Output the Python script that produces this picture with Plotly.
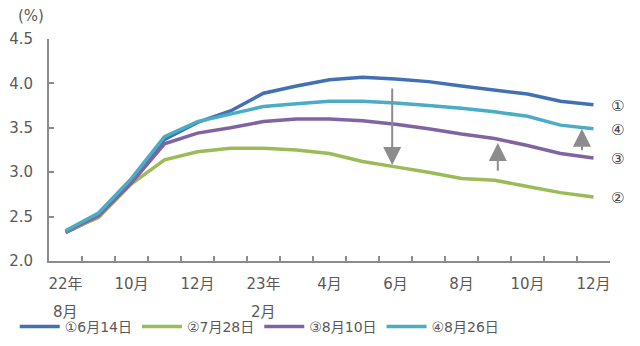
import plotly.graph_objects as go

# Monthly index: Aug 2022 .. Dec 2023
months = ["22年8月", "9月", "10月", "11月", "12月", "23年1月", "2月", "3月", "4月",
          "5月", "6月", "7月", "8月", "9月", "10月", "11月", "12月"]
tick_top = ["22年", "10月", "12月", "23年", "4月", "6月", "8月", "10月", "12月"]
tick_sub = ["8月", "", "", "2月", "", "", "", "", ""]

series_names = ["①6月14日", "②7月28日", "③8月10日", "④8月26日"]
end_marks = ["①", "②", "③", "④"]
s1 = [2.32, 2.50, 2.90, 3.37, 3.56, 3.69, 3.89, 3.97, 4.04, 4.07, 4.05, 4.02, 3.97, 3.93, 3.88, 3.80, 3.76]
s2 = [2.33, 2.49, 2.87, 3.14, 3.23, 3.27, 3.27, 3.25, 3.21, 3.12, 3.06, 3.00, 2.93, 2.91, 2.84, 2.77, 2.72]
s3 = [2.33, 2.51, 2.88, 3.32, 3.44, 3.50, 3.57, 3.60, 3.60, 3.58, 3.54, 3.49, 3.43, 3.38, 3.30, 3.21, 3.16]
s4 = [2.34, 2.54, 2.93, 3.40, 3.57, 3.66, 3.74, 3.77, 3.80, 3.80, 3.78, 3.75, 3.72, 3.68, 3.63, 3.53, 3.49]
colors = ["#4170B3", "#9BBB59", "#8064A2", "#4BACC6"]

FONT = "DejaVu Sans, Noto Sans CJK JP, sans-serif"
TXT = "#595959"
AX = "#8C8C8C"

x = list(range(len(months)))
boundaries = [i - 0.5 for i in range(len(months) + 1)]
tick_x = x[::2]

fig = go.Figure()
for name, vals, col in zip(series_names, [s1, s2, s3, s4], colors):
    fig.add_trace(go.Scatter(x=x, y=vals, mode="lines", name=name,
                             line=dict(color=col, width=3.5),
                             hovertext=months))
# carrier for the month-label axis
fig.add_trace(go.Scatter(x=tick_x, y=[None] * len(tick_x), xaxis="x2",
                         mode="lines", showlegend=False, hoverinfo="skip"))

annotations = []
# series labels at the right end
for mark, vals in zip(end_marks, [s1, s2, s3, s4]):
    annotations.append(dict(x=x[-1], y=vals[-1], xref="x", yref="y", text=mark,
                            showarrow=False, xshift=24, yshift=-1,
                            font=dict(family=FONT, size=15, color="#404040")))

# second line of the year labels
for tx, sub in zip(tick_x, tick_sub):
    if sub:
        annotations.append(dict(x=tx, y=0, xref="x", yref="paper", text=sub,
                                showarrow=False, yanchor="middle", yshift=-51,
                                font=dict(family=FONT, size=15, color=TXT)))

# unit
annotations.append(dict(x=-0.032, y=1.105, xref="paper", yref="paper", text="(%)",
                        xanchor="center", yanchor="middle", showarrow=False,
                        font=dict(family=FONT, size=15, color=TXT)))

# shift arrows: (x index, from, to)
shifts = [(9.9, 3.96, 3.08), (13.1, 3.00, 3.33), (15.65, 3.23, 3.49)]
for ax_, y0, y1 in shifts:
    annotations.append(dict(x=ax_, y=y1, ax=ax_, ay=y0, xref="x", yref="y",
                            axref="x", ayref="y", text="", showarrow=True,
                            arrowhead=2, arrowsize=1.8, arrowwidth=2,
                            arrowcolor="#8C8C8C"))

xrange = [-0.5, len(months) - 0.5]
fig.update_layout(
    width=640, height=346,
    margin=dict(l=49, r=30, t=39, b=85, autoexpand=False),
    plot_bgcolor="white", paper_bgcolor="white",
    font=dict(family=FONT, size=14, color=TXT),
    showlegend=True,
    legend=dict(orientation="h", xref="container", x=0.023, xanchor="left",
                yref="container", y=0.055, yanchor="middle",
                font=dict(family=FONT, size=14, color=TXT),
                itemwidth=40, tracegroupgap=0, bgcolor="rgba(0,0,0,0)"),
    annotations=annotations,
    # month boundaries: tick marks only
    xaxis=dict(
        range=xrange, tickmode="array", tickvals=boundaries,
        ticktext=[""] * len(boundaries),
        ticks="inside", ticklen=5, tickwidth=2, tickcolor=AX,
        showline=True, linecolor=AX, linewidth=2,
        showgrid=False, zeroline=False, automargin=False,
    ),
    # month labels
    xaxis2=dict(
        overlaying="x", side="bottom", anchor="y", range=xrange,
        tickmode="array", tickvals=tick_x, ticktext=tick_top, ticks="",
        ticklabelstandoff=12, showline=False, showgrid=False, zeroline=False,
        automargin=False,
        tickfont=dict(family=FONT, size=15, color=TXT),
    ),
    yaxis=dict(
        range=[2.0, 4.5],
        tickmode="array", tickvals=[2.0, 2.5, 3.0, 3.5, 4.0, 4.5], tickformat=".1f",
        ticks="inside", ticklen=5, tickwidth=2, tickcolor=AX,
        showline=True, linecolor=AX, linewidth=2,
        showgrid=False, zeroline=False, automargin=False,
        ticklabelstandoff=11,
        tickfont=dict(family=FONT, size=15, color=TXT),
    ),
)

fig.write_html("out.html")
